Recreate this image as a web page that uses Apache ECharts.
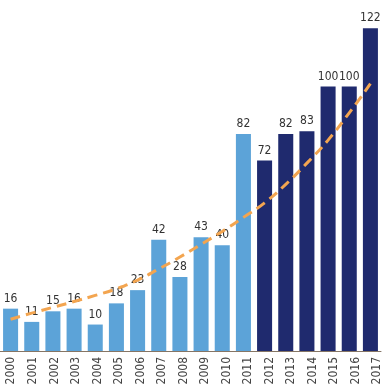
<!DOCTYPE html>
<html>
<head>
<meta charset="utf-8">
<script src="https://cdn.jsdelivr.net/npm/echarts@6/dist/echarts.min.js"></script>
<style>
html,body{margin:0;padding:0;background:#fff;}
#chart{width:388px;height:388px;}
</style>
</head>
<body>
<div id="chart"></div>
<script>
const years = ['2000','2001','2002','2003','2004','2005','2006','2007','2008','2009','2010','2011','2012','2013','2014','2015','2016','2017'];
const counts = [16,11,15,16,10,18,23,42,28,43,40,82,72,82,83,100,100,122];
const trend = [12,14.3,16.5,18.7,21,23.5,26.8,31,35.5,40.3,45.2,50.5,56,63,71,79.7,90,101];
const laterFrom = '2012';

const FONT = "'Liberation Sans Narrow','DejaVu Sans Condensed','Arial Narrow',sans-serif";
const LIGHT = '#5CA3D8';
const NAVY = '#1F2A6E';

const chart = echarts.init(document.getElementById('chart'), null, {renderer:'canvas'});
chart.setOption({
  animation:false,
  backgroundColor:'#fff',
  grid:[
    {left:0, right:7, top:7, bottom:37},
    {left:0.6, width:391.5, top:7, bottom:37}
  ],
  xAxis:[
    {type:'category', gridIndex:0, data:years,
     axisLine:{show:true, lineStyle:{color:'#857565', width:1}},
     axisTick:{show:false}, axisLabel:{show:false}},
    {type:'category', gridIndex:1, data:years,
     axisLine:{show:false}, axisTick:{show:false},
     axisLabel:{rotate:90, margin:6, fontSize:12, color:'#444', fontFamily:FONT, interval:0}}
  ],
  yAxis:[
    {type:'value', gridIndex:0, min:0, max:130, show:false, splitLine:{show:false}},
    {type:'value', gridIndex:1, min:0, max:130, show:false, splitLine:{show:false}}
  ],
  series:[
    {type:'bar', xAxisIndex:0, yAxisIndex:0, data:counts, barCategoryGap:'29%',
     itemStyle:{color:p => (years[p.dataIndex] >= laterFrom ? NAVY : LIGHT)},
     label:{show:true, position:'top', distance:4, fontSize:12, color:'#333', fontFamily:FONT}},
    {type:'line', xAxisIndex:0, yAxisIndex:0, data:trend, smooth:true, symbol:'none', z:5,
     lineStyle:{color:'#F3A550', width:3, type:[10,6], cap:'butt'}}
  ]
});
</script>
</body>
</html>
